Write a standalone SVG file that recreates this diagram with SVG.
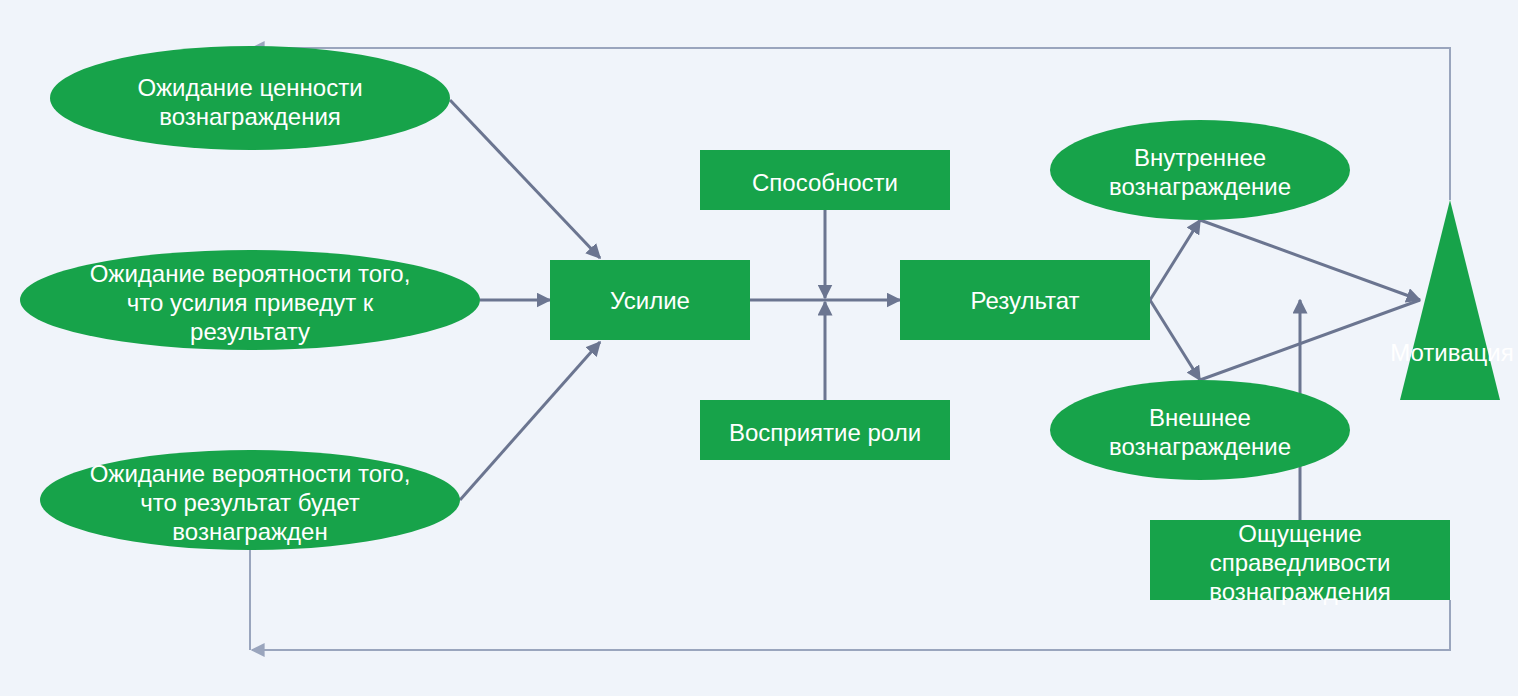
<svg xmlns="http://www.w3.org/2000/svg" width="1518" height="696" viewBox="0 0 1518 696">
<defs>
<style>
.n{fill:#17a34a}
.t{fill:#fff;font-family:"Liberation Sans",Arial,sans-serif;font-size:24px;text-anchor:middle}
.c{stroke:#6b7590;stroke-width:3;fill:none}
.f{stroke:#9aa5bd;stroke-width:2;fill:none}
</style>
<marker id="a" viewBox="0 0 10 10" refX="9" refY="5" markerWidth="5" markerHeight="5" orient="auto"><path d="M0,0L10,5L0,10z" fill="#6b7590"/></marker>
<marker id="b" viewBox="0 0 10 10" refX="9" refY="5" markerWidth="7" markerHeight="7" orient="auto"><path d="M0,0L10,5L0,10z" fill="#9aa5bd"/></marker>
</defs>
<rect width="1518" height="696" fill="#f0f4fa"/>
<g id="connectors">
<polyline class="f" points="1450,200 1450,48 252,48" marker-end="url(#b)"/>
<polyline class="f" points="1450,600 1450,650 252,650" marker-end="url(#b)"/>
<line class="f" x1="250" y1="550" x2="250" y2="650"/>
<line class="c" x1="450" y1="100" x2="600" y2="258" marker-end="url(#a)"/>
<line class="c" x1="480" y1="300" x2="550" y2="300" marker-end="url(#a)"/>
<line class="c" x1="460" y1="500" x2="600" y2="342" marker-end="url(#a)"/>
<line class="c" x1="750" y1="300" x2="900" y2="300" marker-end="url(#a)"/>
<line class="c" x1="825" y1="210" x2="825" y2="298" marker-end="url(#a)"/>
<line class="c" x1="825" y1="400" x2="825" y2="302" marker-end="url(#a)"/>
<line class="c" x1="1150" y1="300" x2="1200" y2="220" marker-end="url(#a)"/>
<line class="c" x1="1150" y1="300" x2="1200" y2="380" marker-end="url(#a)"/>
<line class="c" x1="1200" y1="220" x2="1420" y2="300" marker-end="url(#a)"/>
<line class="c" x1="1200" y1="380" x2="1420" y2="300"/>
<line class="c" x1="1300" y1="520" x2="1300" y2="300" marker-end="url(#a)"/>
</g>
<g id="n1"><ellipse class="n" cx="250" cy="98" rx="200" ry="52"/><text class="t" x="250" y="96">Ожидание ценности</text><text class="t" x="250" y="125">вознаграждения</text></g>
<g id="n2"><ellipse class="n" cx="250" cy="300" rx="230" ry="50"/><text class="t" x="250" y="282">Ожидание вероятности того,</text><text class="t" x="250" y="311">что усилия приведут к</text><text class="t" x="250" y="340">результату</text></g>
<g id="n3"><ellipse class="n" cx="250" cy="500" rx="210" ry="50"/><text class="t" x="250" y="482">Ожидание вероятности того,</text><text class="t" x="250" y="511">что результат будет</text><text class="t" x="250" y="540">вознагражден</text></g>
<g id="n4"><rect class="n" x="550" y="260" width="200" height="80"/><text class="t" x="650" y="309">Усилие</text></g>
<g id="n5"><rect class="n" x="700" y="150" width="250" height="60"/><text class="t" x="825" y="191">Способности</text></g>
<g id="n6"><rect class="n" x="700" y="400" width="250" height="60"/><text class="t" x="825" y="441">Восприятие роли</text></g>
<g id="n7"><rect class="n" x="900" y="260" width="250" height="80"/><text class="t" x="1025" y="309">Результат</text></g>
<g id="n8"><ellipse class="n" cx="1200" cy="170" rx="150" ry="50"/><text class="t" x="1200" y="166">Внутреннее</text><text class="t" x="1200" y="195">вознаграждение</text></g>
<g id="n9"><ellipse class="n" cx="1200" cy="430" rx="150" ry="50"/><text class="t" x="1200" y="426">Внешнее</text><text class="t" x="1200" y="455">вознаграждение</text></g>
<g id="n10"><polygon class="n" points="1450,200 1500,400 1400,400"/><text class="t" x="1452" y="361">Мотивация</text></g>
<g id="n11"><rect class="n" x="1150" y="520" width="300" height="80"/><text class="t" x="1300" y="542">Ощущение</text><text class="t" x="1300" y="571">справедливости</text><text class="t" x="1300" y="600">вознаграждения</text></g>
</svg>
